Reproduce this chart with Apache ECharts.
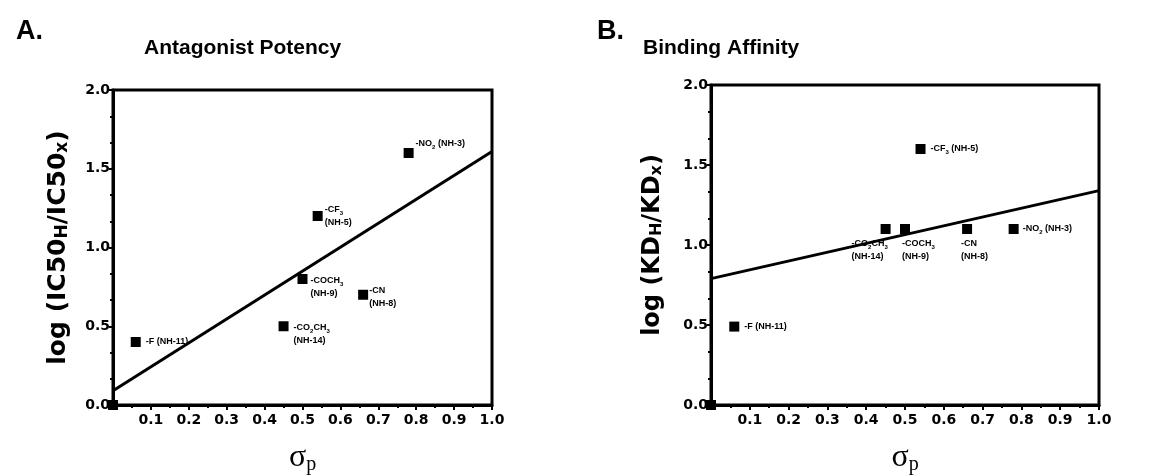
<!DOCTYPE html>
<html>
<head>
<meta charset="utf-8">
<script src="https://cdn.jsdelivr.net/npm/echarts@6/dist/echarts.min.js"></script>
<style>
  html, body { margin: 0; padding: 0; background: #fff; }
  #chart { width: 1173px; height: 475px; }
</style>
</head>
<body>
<div id="chart"></div>
<script>
// sigma_p values and log ratios
var sigmaA = [0, 0.06, 0.45, 0.50, 0.66, 0.54, 0.78];
var potencyA = [0, 0.4, 0.5, 0.8, 0.7, 1.2, 1.6];
var labelsA = ['', '-F (NH-11)', '-CO{s|2}CH{s|3}\n(NH-14)', '-COCH{s|3}\n(NH-9)', '-CN\n(NH-8)', '-CF{s|3}\n(NH-5)', '-NO{s|2} (NH-3)'];
var fitA = [[0, 0.09], [1, 1.61]];

var sigmaB = [0, 0.06, 0.45, 0.50, 0.66, 0.54, 0.78];
var affinityB = [0, 0.49, 1.1, 1.1, 1.1, 1.6, 1.1];
var labelsB = ['', '-F (NH-11)', '-CO{s|2}CH{s|3}\n(NH-14)', '-COCH{s|3}\n(NH-9)', '-CN\n(NH-8)', '-CF{s|3} (NH-5)', '-NO{s|2} (NH-3)'];
var fitB = [[0, 0.79], [1, 1.34]];

var xTicks = [0, 0.1, 0.2, 0.3, 0.4, 0.5, 0.6, 0.7, 0.8, 0.9, 1.0];
var yTicks = [0, 0.5, 1.0, 1.5, 2.0];

// label placement (relative to marker box), not data
var posA = [null, [15, 5, 'middle'], [15, 0, 'top'], [13, 0, 'top'], [11, -6, 'top'], [12, -8, 'top'], [12, -4, 'middle']];
var posB = [null, [15, 5, 'middle'], [-29, 13, 'top'], [2, 13, 'top'], [-1, 13, 'top'], [15, 5, 'middle'], [14, 5, 'middle']];

var FONT = 'Liberation Sans';
var WIDE = 'DejaVu Sans';
var labelRich = {
    s: { fontSize: 6, fontWeight: 'bold', fontFamily: FONT, color: '#000', verticalAlign: 'bottom', lineHeight: 13 }
};

function buildPoints(xs, ys, labels, pos) {
    var arr = [];
    for (var i = 0; i < xs.length; i++) {
        var item = { value: [xs[i], ys[i]] };
        if (pos[i]) {
            item.label = {
                show: true,
                formatter: labels[i],
                position: [pos[i][0], pos[i][1]],
                align: 'left',
                verticalAlign: pos[i][2]
            };
        }
        arr.push(item);
    }
    return arr;
}

function xAxisCfg(idx) {
    return {
        type: 'value', gridIndex: idx, min: xTicks[0], max: xTicks[xTicks.length - 1], interval: 0.1,
        name: '{a|σ}{b|p}', nameLocation: 'middle', nameGap: 36,
        nameTextStyle: {
            rich: {
                a: { fontFamily: 'Liberation Serif', fontSize: 32, color: '#000' },
                b: { fontFamily: 'Liberation Serif', fontSize: 20, color: '#000', verticalAlign: 'bottom', padding: [14, 0, 0, 0] }
            }
        },
        axisLine: { lineStyle: { color: '#000', width: 3 } },
        axisTick: { length: 5, lineStyle: { color: '#000', width: 2 } },
        minorTick: { show: true, splitNumber: 2, length: 3, lineStyle: { color: '#000', width: 2 } },
        splitLine: { show: false },
        axisLabel: {
            color: '#000', fontFamily: WIDE, fontWeight: 'bold', fontSize: 14, margin: 8,
            formatter: function (v) { return v === xTicks[0] ? '' : v.toFixed(1); }
        }
    };
}
function yAxisCfg(idx, name, size, gap) {
    return {
        type: 'value', gridIndex: idx, min: yTicks[0], max: yTicks[yTicks.length - 1], interval: 0.5,
        name: name, nameLocation: 'middle', nameGap: gap,
        nameTextStyle: {
            color: '#000', fontFamily: WIDE, fontWeight: 'bold', fontSize: size,
            rich: {
                h: { fontFamily: WIDE, fontWeight: 'bold', fontSize: Math.round(size * 0.68), color: '#000', verticalAlign: 'bottom', padding: [5, 0, 0, 0] }
            }
        },
        axisLine: { lineStyle: { color: '#000', width: 3 } },
        axisTick: { length: 4, lineStyle: { color: '#000', width: 2 } },
        minorTick: { show: true, splitNumber: 3, length: 3, lineStyle: { color: '#000', width: 2 } },
        splitLine: { show: false },
        axisLabel: {
            color: '#000', fontFamily: WIDE, fontWeight: 'bold', fontSize: 14, margin: 3,
            formatter: function (v) { return v.toFixed(1); }
        }
    };
}
function scatterCfg(idx, data) {
    return {
        type: 'scatter', xAxisIndex: idx, yAxisIndex: idx, data: data,
        symbol: 'rect', symbolSize: 10, itemStyle: { color: '#000', opacity: 1 },
        clip: false,
        label: {
            color: '#000', fontFamily: FONT, fontWeight: 'bold', fontSize: 9, lineHeight: 13,
            rich: labelRich
        },
        z: 3
    };
}
function lineCfg(idx, data) {
    return {
        type: 'line', xAxisIndex: idx, yAxisIndex: idx, data: data,
        symbol: 'none', lineStyle: { color: '#000', width: 3 }, z: 2
    };
}

var myChart = echarts.init(document.getElementById('chart'));
var option = {
    animation: false,
    backgroundColor: '#fff',
    title: [
        { text: 'A.', left: 11, top: 13, textStyle: { fontFamily: FONT, fontWeight: 'bold', fontSize: 27, color: '#000' } },
        { text: 'Antagonist Potency', left: 139, top: 33, textStyle: { fontFamily: FONT, fontWeight: 'bold', fontSize: 21, color: '#000' } },
        { text: 'B.', left: 592, top: 13, textStyle: { fontFamily: FONT, fontWeight: 'bold', fontSize: 27, color: '#000' } },
        { text: 'Binding Affinity', left: 638, top: 33, textStyle: { fontFamily: FONT, fontWeight: 'bold', fontSize: 21, color: '#000' } }
    ],
    grid: [
        { left: 113, top: 90, width: 379, height: 315, show: true, borderColor: '#000', borderWidth: 3, backgroundColor: 'transparent', outerBoundsMode: 'none' },
        { left: 711, top: 85, width: 388, height: 320, show: true, borderColor: '#000', borderWidth: 3, backgroundColor: 'transparent', outerBoundsMode: 'none' }
    ],
    xAxis: [xAxisCfg(0), xAxisCfg(1)],
    yAxis: [
        yAxisCfg(0, 'log (IC50{h|H}/IC50{h|x})', 25, 42),
        yAxisCfg(1, 'log (KD{h|H}/KD{h|x})', 24, 46)
    ],
    series: [
        lineCfg(0, fitA),
        scatterCfg(0, buildPoints(sigmaA, potencyA, labelsA, posA)),
        lineCfg(1, fitB),
        scatterCfg(1, buildPoints(sigmaB, affinityB, labelsB, posB))
    ]
};
myChart.setOption(option);
</script>
</body>
</html>
